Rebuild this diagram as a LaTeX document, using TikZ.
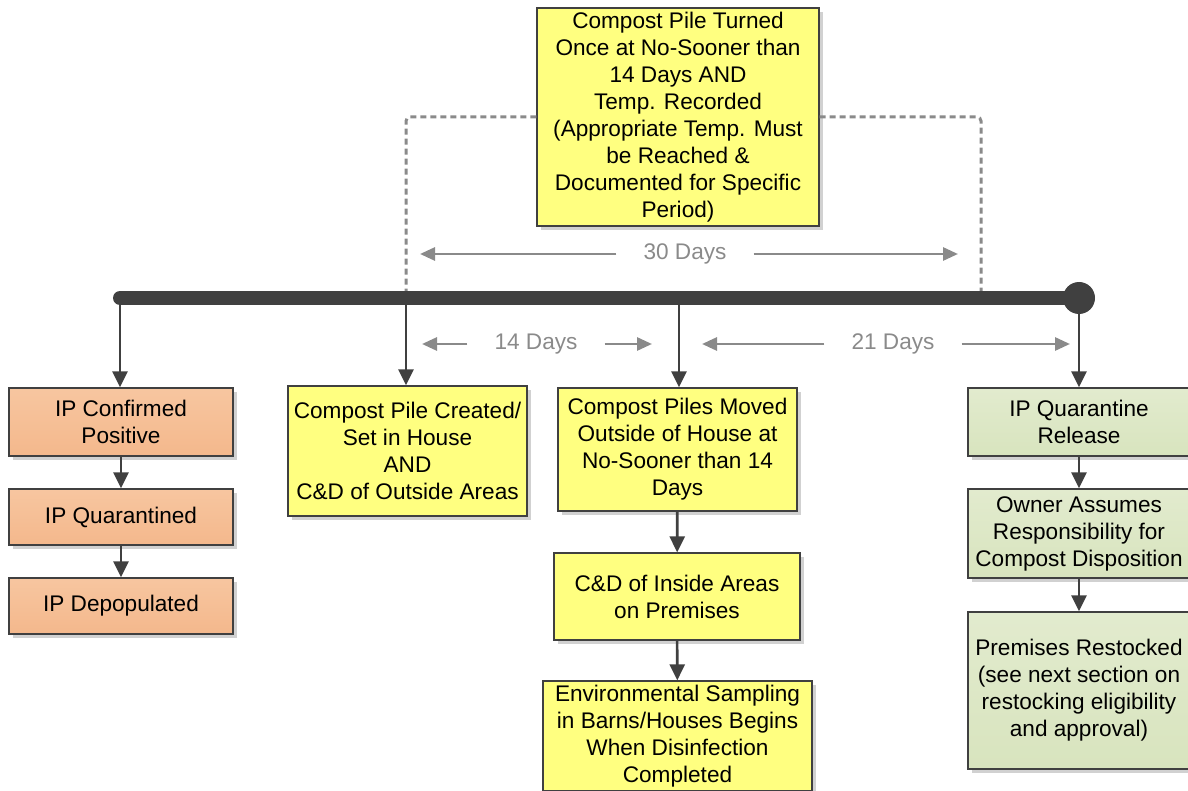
\documentclass[tikz,border=0pt]{standalone}
\usepackage{fontspec}
\setmainfont{Liberation Sans}
\usepackage{tikz}
\usepackage{xcolor}
\usetikzlibrary{arrows.meta,calc,shadows,positioning}
\definecolor{LineDark}{HTML}{404040}
\definecolor{DimGray}{HTML}{8A8A8A}
\definecolor{PileYellow}{HTML}{FFFF80}
\definecolor{IPOrange}{HTML}{F4B88C}
\definecolor{IPOrangeTop}{HTML}{F7C6A0}
\definecolor{RelGreen}{HTML}{D8E4BE}
\definecolor{RelGreenTop}{HTML}{E2EBCE}

\begin{document}
\begin{tikzpicture}[
      x=1pt,y=-1pt,
      font=\fontsize{22.6}{27}\selectfont,
      box/.style={draw=LineDark,line width=1.3pt,align=center,inner sep=0pt,
        drop shadow={shadow xshift=4pt,shadow yshift=-4pt,fill=black!30,opacity=0.6}},
      ybox/.style={box,fill=PileYellow},
      obox/.style={box,top color=IPOrangeTop,bottom color=IPOrange},
      gbox/.style={box,top color=RelGreenTop,bottom color=RelGreen},
      arr/.style={-{Triangle[length=16pt,width=15pt]},line width=2.6pt,draw=LineDark},
      dim/.style={-{Triangle[length=15pt,width=13pt]},line width=2.8pt,draw=DimGray},
      span/.style={text=DimGray,inner xsep=27pt,inner ysep=0pt},
      link/.style={draw=DimGray,line width=3pt,dash pattern=on 6pt off 4pt,rounded corners=4pt}
    ]
      \useasboundingbox (0,0) rectangle (1188,791);
      % timeline
      \coordinate (t0) at (120,298);
      \coordinate (t1) at (406,298);
      \coordinate (t2) at (679,298);
      \coordinate (t3) at (1079,298);
      \coordinate (dl) at (406,298);
      \coordinate (dr) at (981,298);

      \node[ybox,minimum width=282pt,minimum height=218pt] (turn) at (678,117)
        {Compost Pile Turned\\Once at No-Sooner than\\14 Days AND\\Temp. Recorded\\(Appropriate Temp. Must\\be Reached \&\\Documented for Specific\\Period)};

      \draw[link] (turn.west) -| (dl);
      \draw[link] (turn.east) -| (dr);

      \draw[line width=14pt,line cap=round,draw=LineDark] (t0) -- (t3);
      \fill[LineDark] (t3) circle (16pt);

      % spans
      \node[span] (d30) at (685,254) {30 Days};
      \coordinate (d30l) at (420,254);
      \coordinate (d30r) at (958,254);
      \draw[dim] (d30.west) -- (d30l);
      \draw[dim] (d30.east) -- (d30r);
      \node[span] (d14) at (536,344) {14 Days};
      \coordinate (d14l) at (422,344);
      \coordinate (d14r) at (652,344);
      \draw[dim] (d14.west) -- (d14l);
      \draw[dim] (d14.east) -- (d14r);
      \node[span] (d21) at (893,344) {21 Days};
      \coordinate (d21l) at (702,344);
      \coordinate (d21r) at (1070,344);
      \draw[dim] (d21.west) -- (d21l);
      \draw[dim] (d21.east) -- (d21r);

      % infected premises
      \node[obox,minimum width=224pt,minimum height=68pt] (conf) at (121,422) {IP Confirmed\\Positive};
      \node[obox,minimum width=224pt,minimum height=56pt] (quar) at (121,517) {IP Quarantined};
      \node[obox,minimum width=224pt,minimum height=56pt] (depop) at (121,606) {IP Depopulated};
      % compost steps
      \node[ybox,minimum width=239pt,minimum height=130pt] (made) at (407.5,451) {Compost Pile Created/\\Set in House\\AND\\C\&D of Outside Areas};
      \node[ybox,minimum width=239pt,minimum height=123pt] (moved) at (677.5,449.5) {Compost Piles Moved\\Outside of House at\\No-Sooner than 14\\Days};
      \node[ybox,minimum width=246pt,minimum height=87pt] (inside) at (677,596.5) {C\&D of Inside Areas\\on Premises};
      \node[ybox,minimum width=269pt,minimum height=110pt] (envs) at (677.5,736) {Environmental Sampling\\in Barns/Houses Begins\\When Disinfection\\Completed};
      % release
      \node[gbox,minimum width=222pt,minimum height=68pt] (rel) at (1079,422) {IP Quarantine\\Release};
      \node[gbox,minimum width=222pt,minimum height=89pt] (owner) at (1079,533.5) {Owner Assumes\\Responsibility for\\Compost Disposition};
      \node[gbox,minimum width=222pt,minimum height=157pt] (restock) at (1079,690.5) {Premises Restocked\\(see next section on\\restocking eligibility\\and approval)};

      \draw[arr] (t0) -- (t0 |- conf.north);
      \draw[arr] (t1) -- (t1 |- made.north);
      \draw[arr] (t2) -- (t2 |- moved.north);
      \draw[arr] (t3) -- (t3 |- rel.north);
      \draw[arr] (conf) -- (quar);
      \draw[arr] (quar) -- (depop);
      \draw[arr] (moved) -- (inside);
      \draw[arr] (inside) -- (envs);
      \draw[arr] (rel) -- (owner);
      \draw[arr] (owner) -- (restock);
    \end{tikzpicture}
\end{document}
